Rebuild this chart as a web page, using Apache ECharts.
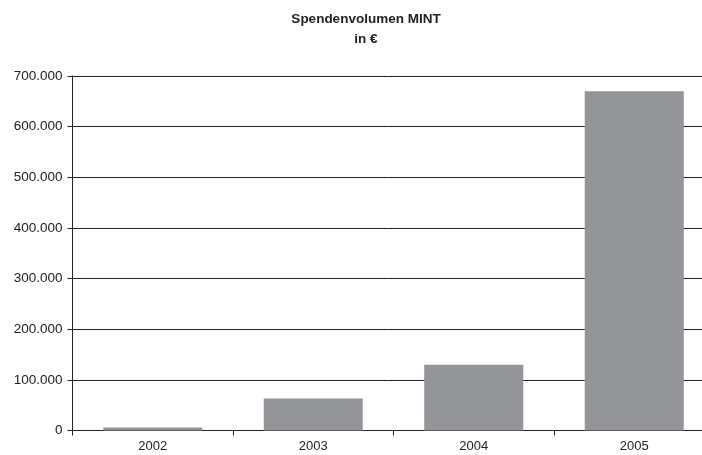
<!DOCTYPE html>
<html>
<head>
<meta charset="utf-8">
<style>html,body{margin:0;padding:0;background:#fff;}#c{width:702px;height:455px;}</style>
<script src="https://cdn.jsdelivr.net/npm/echarts@6/dist/echarts.min.js"></script>
</head>
<body>
<div id="c"></div>
<script>
const categories = ['2002', '2003', '2004', '2005'];
const values = [6000, 63000, 130000, 670000];
const chart = echarts.init(document.getElementById('c'), null, {renderer: 'canvas'});
const fmt = v => v === 0 ? '0' : String(v).replace(/\B(?=(\d{3})+(?!\d))/g, '.');
chart.setOption({
  animation: false,
  backgroundColor: '#fff',
  title: {
    text: 'Spendenvolumen MINT\nin €',
    left: 361, top: 4, textAlign: 'center',
    textStyle: {fontFamily: 'Liberation Sans', fontSize: 13.5, fontWeight: 'bold', color: '#222', lineHeight: 20}
  },
  grid: {left: 72.5, width: 642, top: 76, bottom: 24.5, containLabel: false, outerBoundsMode: 'none'},
  xAxis: {
    type: 'category', data: categories,
    axisLine: {lineStyle: {color: '#222', width: 1}},
    axisTick: {show: true, alignWithLabel: false, length: 5, lineStyle: {color: '#222'}},
    axisLabel: {fontFamily: 'Liberation Sans', fontSize: 13, color: '#222', margin: 9}
  },
  yAxis: {
    type: 'value', min: 0, max: 700000, interval: 100000,
    axisLine: {show: true, lineStyle: {color: '#222', width: 1}},
    axisTick: {show: true, length: 5, lineStyle: {color: '#222'}},
    splitLine: {lineStyle: {color: '#222', width: 1}},
    axisLabel: {fontFamily: 'Liberation Sans', fontSize: 13.5, color: '#222', margin: 10, formatter: fmt}
  },
  series: [{
    type: 'bar', data: values, barWidth: 99,
    itemStyle: {color: '#939598'}
  }]
});
</script>
</body>
</html>
